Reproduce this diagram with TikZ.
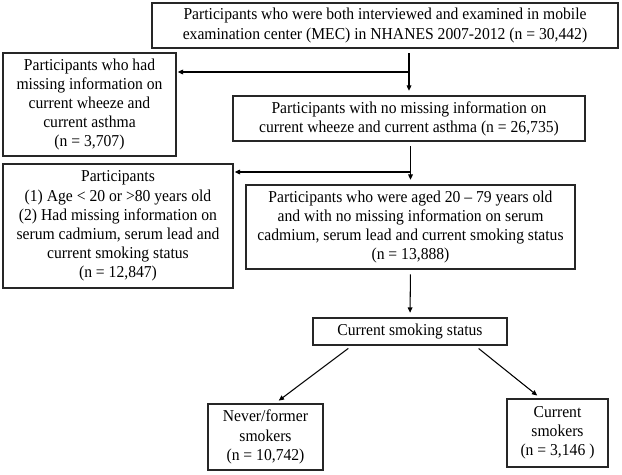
\documentclass[tikz,border=0pt]{standalone}
\usepackage{fontspec}
\setmainfont{Liberation Serif}[FakeStretch=0.94]
\usepackage{tikz}
\usetikzlibrary{arrows.meta, positioning}

\begin{document}
\begin{tikzpicture}[x=0.03cm, y=-0.03cm,
    % Styles
    box/.style={
        rectangle,
        draw=black!85,
        line width=1pt,
        align=center,
        inner sep=2pt,
        font=\fontsize{14.2}{16.3}\selectfont
    },
    arrow/.style={
        -{Triangle[length=4.5pt,width=4pt]},
        line width=0.9pt,
        shorten <=4pt,
        shorten >=4pt
    },
    branch/.style={
        -{Triangle[length=4.5pt,width=4pt]},
        line width=0.9pt,
        shorten >=1pt
    }
]
\useasboundingbox (0,0) rectangle (622,474);

% Main column
\node[box, minimum width=13.98cm, minimum height=1.35cm] (mec) at (385,25.5) {
    Participants who were both interviewed and examined in mobile\\
    examination center (MEC) in NHANES 2007-2012 (n = 30,442)
};

\node[box, minimum width=10.56cm, minimum height=1.35cm] (wheezein) at (409,118.5) {
    Participants with no missing information on\\
    current wheeze and current asthma (n = 26,735)
};

\node[box, minimum width=9.87cm, minimum height=2.52cm] (agein) at (410.5,227) {
    Participants who were aged 20 – 79 years old\\
    and with no missing information on serum\\
    cadmium, serum lead and current smoking status\\
    (n = 13,888)
};

\node[box, minimum width=5.82cm, minimum height=0.81cm] (status) at (410,331.5) {Current smoking status};

% Excluded participants
\node[box, minimum width=5.19cm, minimum height=3.09cm] (wheezeout) at (89.5,104.5) {
    Participants who had\\
    missing information on\\
    current wheeze and\\
    current asthma\\
    (n = 3,707)
};

\node[box, minimum width=6.9cm, minimum height=3.72cm] (ageout) at (118,226) {
    Participants\\
    (1) Age < 20 or >80 years old\\
    (2) Had missing information on\\
    serum cadmium, serum lead and\\
    current smoking status\\
    (n = 12,847)
};

% Smoking groups
\node[box, minimum width=3.45cm, minimum height=1.98cm] (never) at (265.5,437) {
    Never/former\\
    smokers\\
    (n = 10,742)
};

\node[box, minimum width=3.03cm, minimum height=2.04cm] (current) at (557.5,433) {
    Current\\
    smokers\\
    (n = 3,146 )
};

% Split points
\coordinate (split1) at (409,72);
\coordinate (split2) at (410,172);

% Arrows
\draw[arrow] (wheezein.north |- mec.south) -- (wheezein.north);
\draw[branch] (split1) -- (wheezeout.east |- split1);
\draw[arrow] (agein.north |- wheezein.south) -- (agein.north);
\draw[branch] (split2) -- (ageout.east |- split2);
\draw[arrow] (agein.south) -- (status.north);
\draw[arrow] ([xshift=-1.74cm]status.south) -- ([xshift=0.285cm]never.north);
\draw[arrow] ([xshift=1.95cm]status.south) -- ([xshift=-0.5cm]current.north);

\end{tikzpicture}
\end{document}
